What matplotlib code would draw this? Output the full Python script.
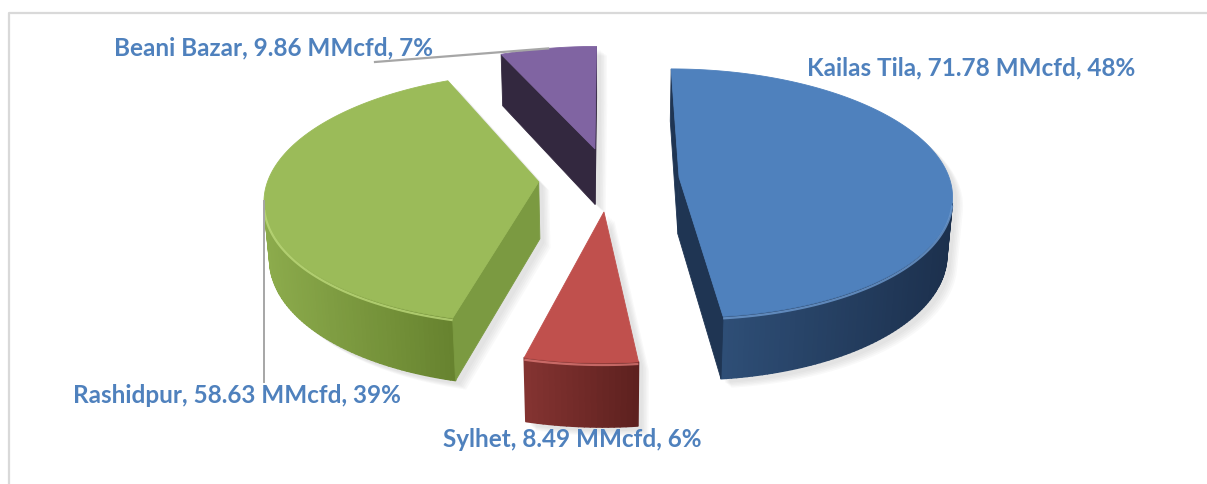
import numpy as np
import matplotlib.pyplot as plt
from matplotlib.patches import Polygon

plt.rcParams['font.family'] = ['Lato', 'DejaVu Sans']

# gas field production (MMcfd)
fields = ["Kailas Tila", "Sylhet", "Rashidpur", "Beani Bazar"]
mmcfd = [71.78, 8.49, 58.63, 9.86]

top_colors = ["#4f81bd", "#c0504d", "#9bbb59", "#8064a2"]
wall_light = ["#2e4e76", "#833331", "#8cab4c", "#5d4a78"]
wall_dark = ["#1c304d", "#5e211f", "#67832f", "#3d3052"]
cut_colors = ["#1f3553", "#7a2e2c", "#7b9a41", "#33283f"]
rim_colors = ["#6d9ad0", "#dc7875", "#bcd97a", "#9c82bd"]
label_xy = [(971, 68), (572, 440), (237, 396), (274, 48)]

W, H = 1207, 485
PHI = np.radians(28.7)     # elevation of the view
DIST = 7.0                 # perspective distance (pie radii)
SCALE = 266.0
CX, CY = 609.0, 237.0
THICK = 0.24
EXPLODE = 0.26
CAM = np.array([0.0, -DIST * np.cos(PHI), DIST * np.sin(PHI)])


def project(p):
    p = np.atleast_2d(p)
    X, Y, Z = p[:, 0], p[:, 1], p[:, 2]
    yc = Y * np.sin(PHI) + Z * np.cos(PHI)
    depth = Y * np.cos(PHI) - Z * np.sin(PHI)
    s = DIST / (DIST + depth)
    return np.column_stack([CX + SCALE * X * s, CY - SCALE * yc * s])


def facing(point, normal):
    return np.dot(CAM - point, normal) > 0


def hull(pts):
    pts = sorted(map(tuple, pts))
    def cross(o, a, b):
        return (a[0]-o[0])*(b[1]-o[1]) - (a[1]-o[1])*(b[0]-o[0])
    lower, upper = [], []
    for p in pts:
        while len(lower) >= 2 and cross(lower[-2], lower[-1], p) <= 0:
            lower.pop()
        lower.append(p)
    for p in reversed(pts):
        while len(upper) >= 2 and cross(upper[-2], upper[-1], p) <= 0:
            upper.pop()
        upper.append(p)
    return np.array(lower[:-1] + upper[:-1])


def mix(c1, c2, t):
    a = np.array(plt.matplotlib.colors.to_rgb(c1))
    b = np.array(plt.matplotlib.colors.to_rgb(c2))
    return tuple(a + (b - a) * t)


vals = np.array(mmcfd)
frac = vals / vals.sum()
edges = np.concatenate([[0], np.cumsum(frac)]) * 2 * np.pi

slices = []
for i in range(len(vals)):
    t1, t2 = edges[i], edges[i+1]
    tm = (t1 + t2) / 2
    off = EXPLODE * np.array([np.sin(tm), np.cos(tm), 0.0])
    n = max(3, int(np.degrees(t2 - t1)))
    th = np.linspace(t1, t2, n)
    rim = np.column_stack([np.sin(th), np.cos(th), np.zeros(n)]) + off
    up = np.array([0, 0, THICK])
    depth = off[1] * np.cos(PHI)
    slices.append(dict(i=i, t1=t1, t2=t2, th=th, off=off, bot=rim,
                       top=rim + up, apex_b=off, apex_t=off + up, depth=depth))

fig = plt.figure(figsize=(W / 100, H / 100), dpi=100)
ax = fig.add_axes([0, 0, 1, 1])
ax.set_xlim(0, W)
ax.set_ylim(H, 0)
ax.axis('off')

# chart area border
ax.plot([9, 9, W + 5], [H + 5, 14, 14], color="#d9d9d9", lw=1.6, zorder=0)

# soft shadows
for s in slices:
    pts = np.vstack([project(s['top']), project(s['bot']),
                     project(s['apex_t']), project(s['apex_b'])])
    hp = hull(pts)
    for k in range(1, 6):
        ax.add_patch(Polygon(hp + [3 + 1.5 * k, 3 + 1.2 * k], closed=True,
                             fc="#7f7f7f", ec="none", alpha=0.045, zorder=1))

for s in sorted(slices, key=lambda d: -d['depth']):
    i = s['i']
    th, top, bot = s['th'], s['top'], s['bot']
    # outer wall, drawn as a dark base plus shaded strips
    quads = []
    for j in range(len(th) - 1):
        tmid = (th[j] + th[j+1]) / 2
        nrm = np.array([np.sin(tmid), np.cos(tmid), 0.0])
        pt = (bot[j] + bot[j+1]) / 2
        if facing(pt, nrm):
            quads.append(np.vstack([project(top[j]), project(top[j+1]),
                                    project(bot[j+1]), project(bot[j])]))
    if quads:
        xs = [q[:, 0].mean() for q in quads]
        x0, x1 = min(xs), max(xs)
        for q, xm in zip(quads, xs):
            t = (xm - x0) / (x1 - x0) if x1 > x0 else 0.5
            c = mix(wall_light[i], wall_dark[i], t)
            ax.add_patch(Polygon(q, closed=True, fc=c, ec=c, lw=1.2,
                                 joinstyle='round', zorder=2))
    # cut faces
    n1 = np.array([-np.cos(s['t1']), np.sin(s['t1']), 0.0])
    n2 = np.array([np.cos(s['t2']), -np.sin(s['t2']), 0.0])
    for nrm, k in ((n1, 0), (n2, -1)):
        if facing(s['apex_b'], nrm):
            face = np.vstack([project(s['apex_t']), project(top[k]),
                              project(bot[k]), project(s['apex_b'])])
            ax.add_patch(Polygon(face, closed=True, fc=cut_colors[i],
                                 ec=cut_colors[i], lw=0.6, zorder=2.5))
    # top face
    face = np.vstack([project(s['apex_t']), project(top)])
    ax.add_patch(Polygon(face, closed=True, fc=top_colors[i],
                         ec=top_colors[i], lw=0.6, zorder=3))
    # highlight on the front rim
    vis = [facing(bot[j], np.array([np.sin(th[j]), np.cos(th[j]), 0.0]))
           for j in range(len(th))]
    rp = project(top)
    seg = [rp[j] for j in range(len(th)) if vis[j]]
    if len(seg) > 1:
        seg = np.array(seg) + [0, 2]
        ax.plot(seg[:, 0], seg[:, 1], color=rim_colors[i], lw=1.6,
                alpha=0.8, zorder=4, solid_capstyle='butt')

# labels
pct = np.round(frac * 100).astype(int)
for i, name in enumerate(fields):
    ax.text(label_xy[i][0], label_xy[i][1],
            "{}, {:.2f} MMcfd, {}%".format(name, mmcfd[i], pct[i]),
            ha='center', va='center', fontsize=17.5, fontweight='bold',
            color="#4f81bd", zorder=6)

# leader lines
green = slices[2]
gp = project(green['top'])
k = np.argmin(gp[:, 0])
ax.plot([gp[k, 0], gp[k, 0]], [gp[k, 1], label_xy[2][1] - 13],
        color="#a6a6a6", lw=1.4, zorder=5)
purple = slices[3]
pp = project(purple['top'])
m = pp[len(pp) // 2]
ax.plot([label_xy[3][0] + 101, m[0]], [label_xy[3][1] + 15, m[1]],
        color="#a6a6a6", lw=1.6, zorder=5)

fig.savefig("out.png", dpi=100)
